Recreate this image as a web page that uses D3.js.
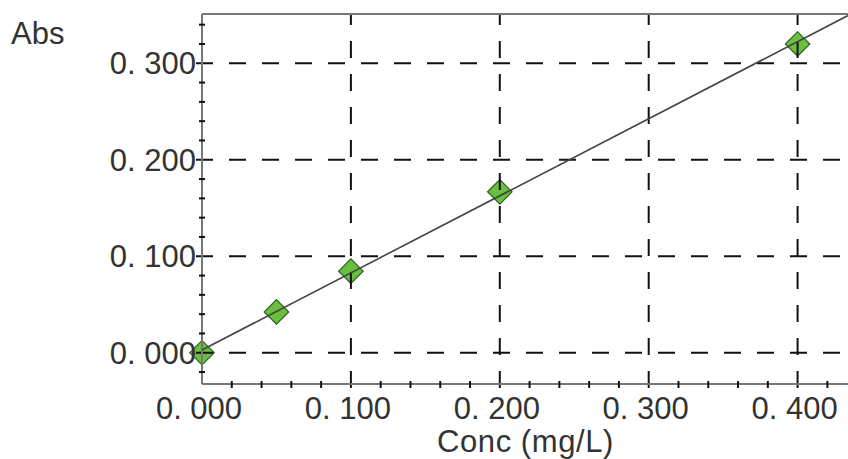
<!DOCTYPE html>
<html>
<head>
<meta charset="utf-8">
<script src="https://cdn.jsdelivr.net/npm/d3@7"></script>
<style>
  html, body { margin: 0; padding: 0; background: #fff; }
  svg { display: block; }
  text { font-family: "Liberation Sans", Arial, sans-serif; fill: #333; }
</style>
</head>
<body>
<svg id="chart" width="848" height="459"></svg>
<script>
// ---- data ----
const concValues = [0.000, 0.050, 0.100, 0.200, 0.400];
const absValues  = [0.000, 0.0423, 0.0845, 0.1668, 0.3200];
const xTickValues = [0.0, 0.1, 0.2, 0.3, 0.4];
const xTickLabels = ["0. 000", "0. 100", "0. 200", "0. 300", "0. 400"];
const yTickValues = [0.0, 0.1, 0.2, 0.3];
const yTickLabels = ["0. 000", "0. 100", "0. 200", "0. 300"];
const xMinorTicks = [0.02, 0.04, 0.06, 0.08, 0.12, 0.14, 0.16, 0.18, 0.22, 0.24, 0.26, 0.28, 0.32, 0.34, 0.36, 0.38, 0.42];
const yMinorTicks = [-0.02, 0.02, 0.04, 0.06, 0.08, 0.12, 0.14, 0.16, 0.18, 0.22, 0.24, 0.26, 0.28, 0.32, 0.34];
const xTitleParts = ["Conc", "(mg/L)"];
const yTitle = "Abs";

// ---- layout ----
const plotL = 202, plotR = 848, plotT = 14, plotB = 384;
const x = d3.scaleLinear().domain([0, 0.43385]).range([plotL, plotR]);
const y = d3.scaleLinear().domain([-0.03238, 0.35106]).range([plotB, plotT]);

const svg = d3.select("#chart");

// least-squares calibration line
const n = concValues.length;
const mx = d3.mean(concValues), my = d3.mean(absValues);
let sxy = 0, sxx = 0;
for (let i = 0; i < n; i++) { sxy += (concValues[i]-mx)*(absValues[i]-my); sxx += (concValues[i]-mx)**2; }
const slope = sxy / sxx, intercept = my - slope * mx;

// markers (drawn first; grid and line pass over them)
const sym = d3.symbol().type(d3.symbolSquare).size(300);
svg.append("g").selectAll("path").data(concValues).join("path")
  .attr("d", sym)
  .attr("transform", (d, i) => `translate(${x(d)},${y(absValues[i])}) rotate(45)`)
  .attr("fill", "#6abf3e")
  .attr("stroke", "#2f5f22")
  .attr("stroke-width", 1.2);

// horizontal dashed grid
svg.append("g").selectAll("line").data(yTickValues).join("line")
  .attr("x1", plotL - 6).attr("x2", plotR)
  .attr("y1", d => y(d)).attr("y2", d => y(d))
  .attr("stroke", "#111").attr("stroke-width", 2)
  .attr("stroke-dasharray", "17,16");

// vertical dashed grid
svg.append("g").selectAll("line").data(xTickValues.filter(d => d > 0)).join("line")
  .attr("x1", d => x(d)).attr("x2", d => x(d))
  .attr("y1", plotB + 4).attr("y2", plotT)
  .attr("stroke", "#111").attr("stroke-width", 2)
  .attr("stroke-dasharray", "17,16");

// frame: top border, left axis, bottom axis
svg.append("line").attr("x1", plotL).attr("x2", plotR).attr("y1", plotT).attr("y2", plotT)
  .attr("stroke", "#777").attr("stroke-width", 2);
svg.append("line").attr("x1", plotL).attr("x2", plotL).attr("y1", plotT).attr("y2", plotB)
  .attr("stroke", "#777").attr("stroke-width", 2);
svg.append("line").attr("x1", plotL).attr("x2", plotR).attr("y1", plotB).attr("y2", plotB)
  .attr("stroke", "#777").attr("stroke-width", 2);

// minor ticks
svg.append("g").selectAll("line").data(yMinorTicks).join("line")
  .attr("x1", plotL - 3).attr("x2", plotL + 3)
  .attr("y1", d => y(d)).attr("y2", d => y(d))
  .attr("stroke", "#111").attr("stroke-width", 2);
svg.append("g").selectAll("line").data(xMinorTicks).join("line")
  .attr("x1", d => x(d)).attr("x2", d => x(d))
  .attr("y1", plotB - 3).attr("y2", plotB + 4)
  .attr("stroke", "#111").attr("stroke-width", 2);

// fit line
const xd = x.domain();
svg.append("line")
  .attr("x1", x(0)).attr("y1", y(intercept))
  .attr("x2", x(xd[1])).attr("y2", y(intercept + slope * xd[1]))
  .attr("stroke", "#444").attr("stroke-width", 1.6);

// tick labels
svg.append("g").selectAll("text").data(yTickValues).join("text")
  .attr("x", plotL - 6).attr("y", d => y(d) + 11)
  .attr("text-anchor", "end").attr("font-size", 31)
  .text((d, i) => yTickLabels[i]);
svg.append("g").selectAll("text").data(xTickValues).join("text")
  .attr("x", d => x(d) - 3).attr("y", 419)
  .attr("text-anchor", "middle").attr("font-size", 31)
  .text((d, i) => xTickLabels[i]);

// titles
svg.append("text").attr("x", 11).attr("y", 44).attr("font-size", 31).text(yTitle);
const xt = svg.append("text").attr("x", 437).attr("y", 452).attr("font-size", 31)
  .attr("letter-spacing", 0.6);
xt.append("tspan").text(xTitleParts[0]);
xt.append("tspan").attr("dx", 9).text(xTitleParts[1]);
</script>
</body>
</html>
